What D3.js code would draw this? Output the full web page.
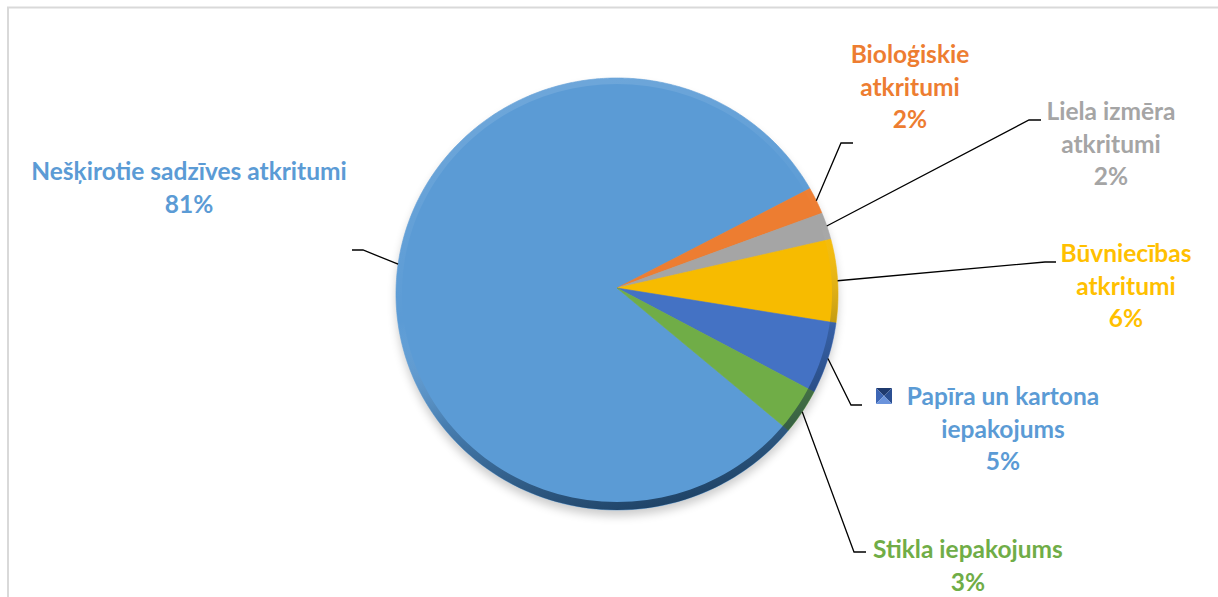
<!DOCTYPE html>
<html>
<head>
<meta charset="utf-8">
<script src="https://cdn.jsdelivr.net/npm/d3@7"></script>
<style>
  body { margin: 0; background: #fff; }
  svg { display: block; font-family: Lato, "Open Sans", sans-serif; font-weight: bold; }
</style>
</head>
<body>
<svg id="chart" width="1218" height="597"></svg>
<script>
const categories = [
  "Nešķirotie sadzīves atkritumi",
  "Bioloģiskie atkritumi",
  "Liela izmēra atkritumi",
  "Būvniecības atkritumi",
  "Papīra un kartona iepakojums",
  "Stikla iepakojums"
];
const shares = [81.4, 2.0, 2.0, 6.1, 5.2, 3.3];

const sliceColors = ["#5b9bd5", "#ed7d31", "#a5a5a5", "#f7bb00", "#4472c4", "#70ad47"];
const labelColors = ["#5b9bd5", "#ed7d31", "#a5a5a5", "#ffc000", "#5b9bd5", "#70ad47"];

// label placement: centre x, first baseline, words per line, leader tip and elbow
const labelLayout = [
  { x: 189, y: 180, words: [3], tip: [352, 250], elbow: [363, 250] },
  { x: 910, y: 63, words: [1, 1], tip: [853, 143], elbow: [841, 143] },
  { x: 1111, y: 120, words: [2, 1], tip: [1041, 120], elbow: [1029, 120] },
  { x: 1126, y: 262, words: [1, 1], tip: [1056, 262], elbow: [1045, 262] },
  { x: 1003, y: 405, words: [3, 1], tip: [862, 405], elbow: [851, 405] },
  { x: 968, y: 558, words: [2], tip: [866, 552], elbow: [854, 552] }
];
const lineHeight = 32.5;

const svg = d3.select("#chart");
const defs = svg.append("defs");

// chart border
svg.append("rect")
  .attr("x", 8).attr("y", 7.5)
  .attr("width", 1230).attr("height", 620)
  .attr("fill", "none").attr("stroke", "#d9d9d9").attr("stroke-width", 2);

// pie geometry: apex sits a little above the ellipse centre
const apex = [617, 288];
const ec = [617, 294];
const rx = 221, ry = 216;

function edge(a) {
  const s = Math.sin(a), c = Math.cos(a), d = ec[1] - apex[1];
  const A = (s * s) / (rx * rx) + (c * c) / (ry * ry);
  const B = (2 * d * c) / (ry * ry);
  const C = (d * d) / (ry * ry) - 1;
  const t = (-B + Math.sqrt(B * B - 4 * A * C)) / (2 * A);
  return [apex[0] + t * s, apex[1] - t * c];
}

function ellipsePts(cx, cy, ax, ay) {
  return d3.range(0, 361, 2).map((deg) => {
    const a = (deg * Math.PI) / 180;
    return [cx + ax * Math.sin(a), cy - ay * Math.cos(a)];
  });
}

const line = d3.line();
const start = (129.7 * Math.PI) / 180;
const pie = d3.pie().sort(null).startAngle(start).endAngle(start + 2 * Math.PI);
const arcs = pie(shares);
const total = d3.sum(shares);
const pct = d3.format(".0%");

// shadow
const blur = defs.append("filter").attr("id", "blur")
  .attr("x", "-20%").attr("y", "-20%").attr("width", "140%").attr("height", "140%");
blur.append("feGaussianBlur").attr("stdDeviation", 5);

svg.append("ellipse")
  .attr("cx", ec[0]).attr("cy", ec[1] + 6)
  .attr("rx", rx).attr("ry", ry)
  .attr("fill", "#000").attr("opacity", 0.2)
  .attr("filter", "url(#blur)");

// slices
svg.append("g").selectAll("path")
  .data(arcs)
  .join("path")
  .attr("d", (d) => {
    const n = Math.max(2, Math.ceil((d.endAngle - d.startAngle) / 0.01));
    const pts = [apex].concat(
      d3.range(n + 1).map((i) => edge(d.startAngle + ((d.endAngle - d.startAngle) * i) / n))
    );
    return line(pts) + "Z";
  })
  .attr("fill", (d, i) => sliceColors[i])
  .attr("stroke", (d, i) => sliceColors[i])
  .attr("stroke-width", 0.6);

// soft bevel rim
const rim = defs.append("linearGradient").attr("id", "rim")
  .attr("x1", 0.35).attr("y1", 0).attr("x2", 0.6).attr("y2", 1);
rim.append("stop").attr("offset", 0).attr("stop-color", "#fff").attr("stop-opacity", 0.12);
rim.append("stop").attr("offset", 0.45).attr("stop-color", "#fff").attr("stop-opacity", 0);
rim.append("stop").attr("offset", 0.7).attr("stop-color", "#0a2440").attr("stop-opacity", 0.25);
rim.append("stop").attr("offset", 1).attr("stop-color", "#0a2440").attr("stop-opacity", 0.75);

svg.append("path")
  .attr("d", line(ellipsePts(ec[0], ec[1], rx, ry)) + "Z" +
             line(ellipsePts(ec[0], ec[1] - 1, rx - 6, ry - 7)) + "Z")
  .attr("fill-rule", "evenodd")
  .attr("fill", "url(#rim)");

// leader lines
svg.append("g").selectAll("polyline")
  .data(arcs)
  .join("polyline")
  .attr("points", (d, i) => {
    const L = labelLayout[i];
    const p = edge((d.startAngle + d.endAngle) / 2);
    return [L.tip, L.elbow, p].map((q) => q.join(",")).join(" ");
  })
  .attr("fill", "none")
  .attr("stroke", "#000")
  .attr("stroke-width", 1.3);

// labels
const labels = svg.append("g").selectAll("text")
  .data(arcs)
  .join("text")
  .attr("text-anchor", "middle")
  .attr("font-size", 24.5)
  .attr("fill", (d, i) => labelColors[i]);

labels.each(function (d, i) {
  const L = labelLayout[i];
  const words = categories[i].split(" ");
  const rows = [];
  let k = 0;
  L.words.forEach((n) => { rows.push(words.slice(k, k + n).join(" ")); k += n; });
  rows.push(pct(d.data / total));
  d3.select(this).selectAll("tspan")
    .data(rows)
    .join("tspan")
    .attr("x", L.x)
    .attr("y", (r, j) => L.y + j * lineHeight)
    .text((r) => r);
});

// legend key shown beside the paper label
const kx = 876, ky = 388, ks = 16;
const facets = [
  { pts: [[0, 0], [ks, 0], [ks / 2, ks / 2]], c: "#1f3a6e" },
  { pts: [[0, 0], [ks / 2, ks / 2], [0, ks]], c: "#3d66b5" },
  { pts: [[ks, 0], [ks, ks], [ks / 2, ks / 2]], c: "#2b4f92" },
  { pts: [[0, ks], [ks / 2, ks / 2], [ks, ks]], c: "#6a93dc" }
];
svg.append("g").attr("transform", `translate(${kx},${ky})`)
  .selectAll("path")
  .data(facets)
  .join("path")
  .attr("d", (f) => line(f.pts) + "Z")
  .attr("fill", (f) => f.c);
</script>
</body>
</html>
